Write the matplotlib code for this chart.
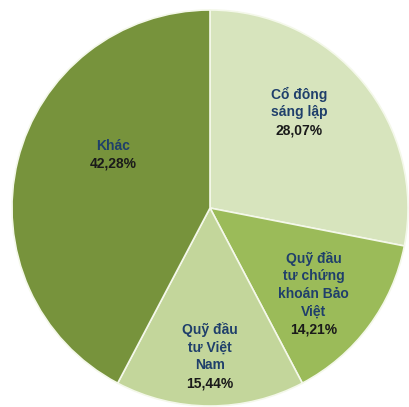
import numpy as np
import matplotlib
matplotlib.use("Agg")
import matplotlib.pyplot as plt

# Shareholder structure data
labels = ["Cổ đông\nsáng lập", "Quỹ đầu\ntư chứng\nkhoán Bảo\nViệt", "Quỹ đầu\ntư Việt\nNam", "Khác"]
shares = [28.07, 14.21, 15.44, 42.28]
colors = ["#D7E4BD", "#9BBB59", "#C3D69B", "#77933C"]

# label placement (radius fraction, angle tweak in degrees)
label_r = [0.66, 0.68, 0.75, 0.56]
label_shift = [7.5, -3, 0, -15]

plt.rcParams["font.family"] = ["Liberation Sans", "DejaVu Sans"]

fig = plt.figure(figsize=(4.09, 4.07), dpi=100)
ax = fig.add_axes([0, 0, 1, 1])

wedges, _ = ax.pie(shares, colors=colors, startangle=90, counterclock=False,
                   radius=1.0, wedgeprops=dict(edgecolor="#F4F8EA", linewidth=1.2))

# pie centre at (210, 208) px, radius 198 px
R = 198.0
cx, cy = 210.0, 208.0
ax.set_xlim(-cx / R, (409 - cx) / R)
ax.set_ylim(-(407 - cy) / R, cy / R)
ax.set_aspect("auto")
ax.axis("off")

line_h = 12.8  # points between lines
for w, lab, val, r, sh in zip(wedges, labels, shares, label_r, label_shift):
    mid = np.deg2rad((w.theta1 + w.theta2) / 2 + sh)
    x, y = r * np.cos(mid), r * np.sin(mid)
    lines = lab.split("\n") + [f"{val:.2f}%".replace(".", ",")]
    n = len(lines)
    for i, txt in enumerate(lines):
        off = ((n - 1) / 2 - i) * line_h
        col = "#1F3F6B" if i < n - 1 else "#1A1A1A"
        ax.annotate(txt, (x, y), xytext=(0, off), textcoords="offset points",
                    ha="center", va="center", fontsize=10, fontweight="bold", color=col)

fig.savefig("out.png", dpi=100, facecolor="white")
